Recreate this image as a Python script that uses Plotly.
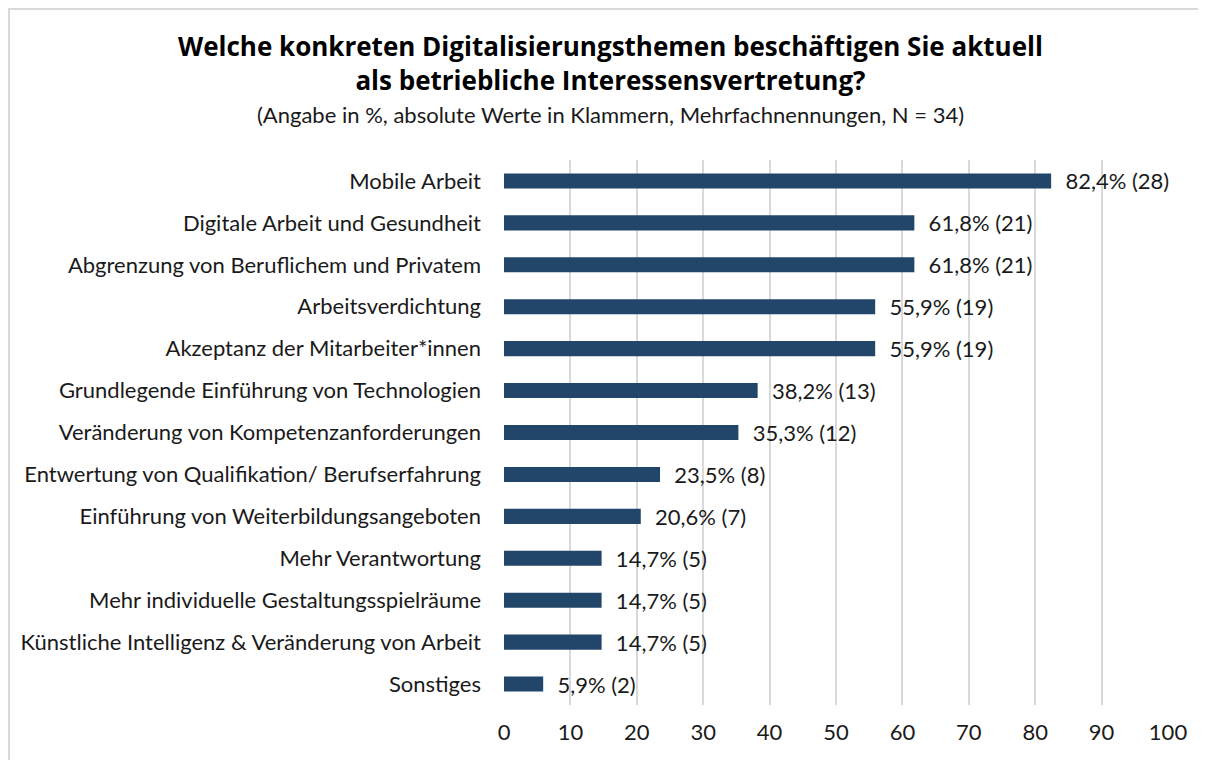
import plotly.graph_objects as go

categories = [
    "Mobile Arbeit",
    "Digitale Arbeit und Gesundheit",
    "Abgrenzung von Beruflichem und Privatem",
    "Arbeitsverdichtung",
    "Akzeptanz der Mitarbeiter*innen",
    "Grundlegende Einführung von Technologien",
    "Veränderung von Kompetenzanforderungen",
    "Entwertung von Qualifikation/ Berufserfahrung",
    "Einführung von Weiterbildungsangeboten",
    "Mehr Verantwortung",
    "Mehr individuelle Gestaltungsspielräume",
    "Künstliche Intelligenz & Veränderung von Arbeit",
    "Sonstiges",
]
percent = [82.4, 61.8, 61.8, 55.9, 55.9, 38.2, 35.3, 23.5, 20.6, 14.7, 14.7, 14.7, 5.9]
counts = [28, 21, 21, 19, 19, 13, 12, 8, 7, 5, 5, 5, 2]
x_ticks = [0, 10, 20, 30, 40, 50, 60, 70, 80, 90, 100]

FONT = "Lato"
TITLE_FONT = "Open Sans"
BAR_COLOR = "#21466a"
GRID = "#d9d9d9"
TXT = "#1a1a1a"

labels = ["\u00a0\u00a0" + f"{p:.1f}".replace(".", ",") + f"% ({c})" for p, c in zip(percent, counts)]

# the page puts the figure at (8, 8); work in figure pixels
OFF = 8
L, R, T, B = 504 - OFF, 1168 - OFF, 160 - OFF, 705 - OFF
W, H = 1206, 760


def px_x(x):
    return (x - OFF - L) / (R - L)


def px_y(y):
    return (B - (y - OFF)) / (B - T)


fig = go.Figure(
    go.Bar(
        x=percent,
        y=categories,
        orientation="h",
        marker=dict(color=BAR_COLOR, line=dict(width=0)),
        width=0.36,
        text=labels,
        textposition="outside",
        constraintext="none",
        cliponaxis=False,
        textfont=dict(family=FONT, size=22, color=TXT),
        hoverinfo="skip",
    )
)

fig.update_xaxes(
    range=[0, 100],
    tickvals=x_ticks,
    showgrid=True,
    gridcolor=GRID,
    gridwidth=2,
    zeroline=False,
    showline=False,
    tickfont=dict(family=FONT, size=22, color=TXT),
    ticklabelstandoff=12,
    automargin=False,
    fixedrange=True,
)
fig.update_yaxes(
    autorange="reversed",
    showgrid=False,
    zeroline=False,
    tickfont=dict(family=FONT, size=22, color=TXT),
    ticklabelstandoff=22,
    automargin=False,
    fixedrange=True,
)

# outer chart border
fig.add_shape(
    type="rect",
    xref="paper",
    yref="paper",
    x0=px_x(9),
    x1=px_x(1200),
    y0=px_y(800),
    y1=px_y(9),
    line=dict(color=GRID, width=2),
    layer="below",
)

title_x = px_x(610)
fig.add_annotation(
    text="<b>Welche konkreten Digitalisierungsthemen beschäftigen Sie aktuell<br>"
         "als betriebliche Interessensvertretung?</b>",
    xref="paper", yref="paper", x=title_x, y=px_y(63),
    showarrow=False, xanchor="center", yanchor="middle",
    font=dict(family=TITLE_FONT, size=26, color="black"),
)
fig.add_annotation(
    text="(Angabe in %, absolute Werte in Klammern, Mehrfachnennungen, N = 34)",
    xref="paper", yref="paper", x=title_x, y=px_y(114),
    showarrow=False, xanchor="center", yanchor="middle",
    font=dict(family=FONT, size=22, color=TXT),
)

fig.update_layout(
    width=W,
    height=H,
    margin=dict(l=L, r=W - R, t=T, b=H - B, pad=0, autoexpand=False),
    plot_bgcolor="white",
    paper_bgcolor="white",
    showlegend=False,
    font=dict(family=FONT),
)

fig.write_html("out.html")
